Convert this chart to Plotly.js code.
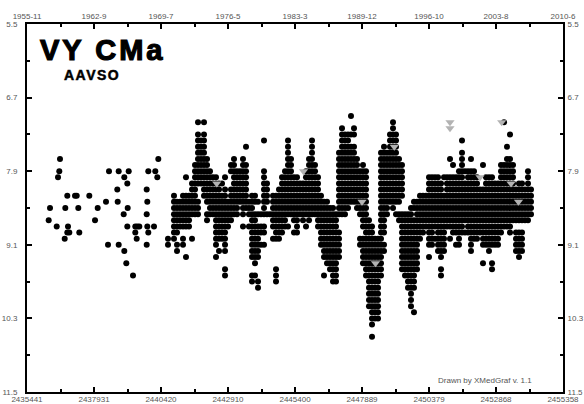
<!DOCTYPE html>
<html>
<head>
<meta charset="utf-8">
<script src="https://cdn.plot.ly/plotly-3.0.1.min.js"></script>
<style>html,body{margin:0;padding:0;background:#fff;}#chart{width:584px;height:404px;}</style>
</head>
<body>
<div id="chart"></div>
<script>
// Julian-date tick labels (bottom) and calendar tick labels (top)
const jdTicks = [2435441, 2437931, 2440420, 2442910, 2445400, 2447889, 2450379, 2452868, 2455358];
const dateTicks = ['1955-11', '1962-9', '1969-7', '1976-5', '1983-3', '1989-12', '1996-10', '2003-8', '2010-6'];
const magTicks = [5.5, 6.7, 7.9, 9.1, 10.3, 11.5];
const magTickText = ['5.5', '6.7', '7.9', '9.1', '10.3', '11.5'];

// Sparse early observations (JD, visual magnitude)
const earlyJD = [2436247, 2436296, 2436545, 2436593, 2436641, 2436667, 2436842, 2436864, 2436938, 2436938,
  2436964, 2437013, 2437225, 2437288, 2437347, 2437384, 2437756, 2437968, 2438068, 2438376,
  2438451, 2438488, 2438796, 2438811, 2438848, 2438848, 2439034, 2439056, 2439056, 2439131,
  2439168, 2439168, 2439183, 2439220, 2439380, 2439465, 2439465, 2439517, 2439540, 2439614,
  2439889, 2439889, 2439889, 2439911, 2439911, 2439948, 2439948, 2440160, 2440208, 2440283, 2440320];
const earlyMag = [8.7, 8.5, 8.8, 8.0, 7.9, 7.7, 9.0, 8.5, 8.3, 8.9,
  8.8, 8.9, 8.3, 8.3, 8.5, 8.9, 8.3, 8.7, 8.5, 8.4,
  9.1, 7.9, 8.2, 8.4, 7.9, 9.1, 8.6, 8.0, 9.2, 9.4,
  8.1, 8.8, 8.5, 7.9, 9.6, 8.8, 8.9, 9.0, 8.8, 8.8,
  8.2, 8.6, 9.1, 8.4, 8.8, 7.9, 8.9, 8.8, 7.9, 8.0, 7.7];

// Dense later observations: dates and the magnitudes observed around each date
const colJD = [2440680, 2440792, 2440903, 2441015, 2441126, 2441238, 2441349, 2441461, 2441572, 2441684,
  2441795, 2441907, 2442018, 2442130, 2442241, 2442353, 2442464, 2442576, 2442687, 2442799,
  2442910, 2443021, 2443133, 2443244, 2443356, 2443467, 2443579, 2443690, 2443802, 2443913,
  2444025, 2444136, 2444248, 2444359, 2444471, 2444582, 2444694, 2444805, 2444917, 2445028,
  2445139, 2445251, 2445362, 2445474, 2445585, 2445697, 2445808, 2445920, 2446031, 2446143,
  2446254, 2446366, 2446477, 2446589, 2446700, 2446812, 2446923, 2447035, 2447146, 2447257,
  2447369, 2447480, 2447592, 2447703, 2447815, 2447926, 2448038, 2448149, 2448261, 2448372,
  2448484, 2448595, 2448707, 2448818, 2448930, 2449041, 2449153, 2449264, 2449375, 2449487,
  2449598, 2449710, 2449821, 2449933, 2450044, 2450156, 2450267, 2450379, 2450490, 2450602,
  2450713, 2450825, 2450936, 2451048, 2451159, 2451271, 2451382, 2451493, 2451605, 2451716,
  2451828, 2451939, 2452051, 2452162, 2452274, 2452385, 2452497, 2452608, 2452720, 2452831,
  2452943, 2453054, 2453166, 2453277, 2453389, 2453500, 2453611, 2453723, 2453834, 2453946,
  2454057, 2454169];
const colMag = [
  "9.0 9.1", "", "8.3 8.4 8.5 8.6 8.7 8.8 8.9 9.0", "8.4 8.5 8.6 8.7 8.8 8.9 9.1 9.2", "8.4 8.5 8.6 8.7 8.8",
  "8.3 8.4 8.5 8.6 8.7 8.8 9.0 9.1", "8.0 8.3 8.4 8.5 8.6 8.7 8.8 9.3", "8.3 8.4 8.5 8.6 8.7 8.8", "8.1 8.2 8.3 8.4 8.5 8.6 9.0", "7.8 7.9 8.0 8.1 8.2 8.3 8.4 8.5 8.6",
  "7.1 7.3 7.4 7.5 7.6 7.7 7.8 7.9 8.0 8.1 8.4 8.5 8.6", "7.4 7.5 7.6 7.7 7.8 7.9 8.0 8.1", "7.1 7.3 7.4 7.5 7.6 7.7 7.8 7.9 8.0 8.1 8.2 8.3", "7.7 7.8 7.9 8.0 8.1 8.2 8.3 8.4 8.6 8.7", "7.9 8.0 8.1 8.2 8.3 8.4 8.5 8.6",
  "8.0 8.1 8.2 8.3 8.4 8.5 8.6", "8.0 8.1 8.2 8.3 8.4 8.5 8.6 8.7 8.8 8.9 9.0 9.1 9.3", "8.1 8.2 8.3 8.4 8.5 8.6 8.7 8.8 8.9 9.0 9.2", "8.1 8.3 8.4 8.5 8.6 8.7 8.8 8.9 9.0", "8.0 8.2 8.3 8.4 8.5 8.6 8.7 8.8 8.9 9.0 9.1 9.2 9.5 9.6",
  "8.4 8.5 8.6 8.7 8.8", "7.8 7.9 8.2 8.3 8.4 8.5 8.6 8.7", "7.7 7.8 7.9 8.0 8.1 8.2 8.3 8.4 8.5 8.6", "7.9 8.0 8.1 8.2 8.3 8.4 8.5 8.6", "7.9 8.0 8.1 8.2 8.3 8.4",
  "7.7 7.8 7.9 8.0 8.1 8.2 8.3 8.4 8.5 8.6 8.8", "7.5 7.8 7.9 8.0 8.1 8.2 8.3 8.4 8.5", "8.4 8.5 8.6 8.8", "8.3 8.4 8.5 8.6 8.7 8.8 8.9 9.0 9.1 9.2 9.3 9.6 9.7", "8.3 8.4 8.6 8.7 8.8 8.9 9.0 9.1 9.2 9.3 9.4 9.6",
  "8.4 8.6 8.8 8.9 9.0 9.1 9.2 9.3 9.7 9.8", "8.6 8.8 8.9 9.1", "7.4 7.9 8.0 8.1 8.2 8.3 8.4 8.5 8.6 8.8 8.9 9.1", "8.1 8.2 8.3 8.4 8.6", "8.6",
  "8.3 8.4 8.5 8.6 8.7 8.8 9.0", "8.3 8.4 8.5 8.6 8.7 8.8 8.9 9.0 9.5 9.6 9.7", "8.2 8.3 8.4 8.5 8.6 8.7 8.8 8.9 9.0", "8.0 8.1 8.2 8.3 8.4 8.5 8.6 8.7 8.8 8.9", "7.9 8.0 8.1 8.2 8.3 8.4 8.5 8.6 8.7 8.8",
  "7.4 7.5 7.6 7.7 7.8 7.9 8.0 8.1 8.2 8.3 8.4 8.5 8.6 8.8", "7.7 7.8 7.9 8.0 8.1 8.2 8.3 8.4 8.5 8.6", "8.0 8.1 8.2 8.3 8.4 8.5 8.6 8.7 8.9", "8.0 8.1 8.2 8.3 8.4 8.5 8.6 8.7 8.8 8.9", "8.1 8.2 8.3 8.4 8.5 8.6",
  "8.1 8.2 8.3 8.4 8.5 8.6 8.7", "7.9 8.0 8.1 8.2 8.3 8.4 8.5 8.6 8.8", "7.7 7.8 7.9 8.0 8.1 8.2 8.3 8.4 8.5 8.6 8.7", "7.4 7.5 7.6 7.7 7.8 7.9 8.0 8.1 8.2 8.3 8.4 8.5 8.6", "7.8 7.9 8.0 8.1 8.2 8.3 8.4 8.5 8.6",
  "8.0 8.1 8.2 8.3 8.4 8.5 8.6 8.7 8.8", "8.3 8.4 8.5 8.6 8.7 8.8 8.9 9.0 9.1", "8.4 8.5 8.6 8.7 8.8 8.9 9.0 9.1 9.2 9.3 9.6", "8.4 8.5 8.6 8.7 8.8 8.9 9.0 9.1 9.2 9.3 9.4", "8.5 8.6 8.7 8.8 8.9 9.0 9.1 9.2 9.3 9.4 9.5",
  "8.5 8.6 8.7 8.8 8.9 9.0 9.1 9.2 9.3 9.4 9.5 9.6 9.7", "8.6 8.7 8.8 8.9 9.0 9.1 9.2 9.3 9.4 9.5 9.6 9.7", "7.6 7.7 7.8 7.9 8.0 8.1 8.2 8.3 8.4 8.5 8.6 8.9 9.0 9.1 9.2 9.3", "7.2 7.3 7.4 7.5 7.6 7.7 7.8 7.9 8.0 8.1 8.2 8.3 8.4 8.5 8.6", "7.3 7.4 7.5 7.6 7.7 7.8 7.9 8.0 8.1 8.2 8.3 8.4 8.5 8.6",
  "7.3 7.4 7.5 7.6 7.7 7.8 7.9 8.0 8.1 8.2 8.3 8.4 8.5", "7.0 7.3 7.5 7.6 7.7 7.8 7.9 8.0 8.1 8.2 8.3 8.4", "7.2 7.3 7.5 7.6 7.7 7.8 7.9 8.0 8.1 8.2 8.3 8.4", "7.7 7.8 7.9 8.0 8.1 8.2 8.3 8.4 8.5", "7.9 8.0 8.1 8.2 8.3 8.4 8.5 8.6 9.0 9.1",
  "7.8 7.9 8.0 8.1 8.2 8.3 8.4 8.5 8.6 8.7 8.8 9.0 9.1 9.2 9.3 9.4", "7.9 8.0 8.1 8.2 8.3 8.4 8.5 8.6 8.7 8.8 8.9 9.0 9.1 9.2 9.3 9.4 9.5 9.6", "8.7 8.8 8.9 9.0 9.1 9.2 9.3 9.4 9.5 9.6 9.7 9.8 9.9 10.0 10.1", "8.8 8.9 9.0 9.1 9.2 9.3 9.4 9.5 9.6 9.7 9.8 9.9 10.0 10.1 10.2 10.3 10.4 10.6", "9.0 9.1 9.2 9.3 9.4 9.5 9.6 9.7 9.8 9.9 10.0 10.1 10.2 10.3",
  "9.0 9.1 9.2 9.3 9.4 9.5 9.6 9.7 9.8 9.9 10.0 10.1 10.2 10.3", "7.6 7.7 7.8 7.9 8.0 8.1 8.2 8.3 8.4 8.5 8.6 8.7 8.8 8.9 9.0 9.1 9.2 9.3 9.4 9.5 9.6", "7.5 7.6 7.7 7.8 7.9 8.0 8.1 8.2 8.3 8.4 8.5 8.6 8.7 8.8 8.9 9.1 9.2", "7.6 7.7 7.8 7.9 8.0 8.1 8.2 8.3 8.4 8.5 8.6", "7.3 7.4 7.5 7.6 7.7 7.8 7.9 8.0 8.1 8.2 8.3 8.4",
  "7.1 7.2 7.3 7.4 7.5 7.6 7.7 7.8 7.9 8.0 8.1 8.2 8.3 8.4 8.5", "7.3 7.4 7.5 7.6 7.7 7.8 7.9 8.0 8.1 8.2 8.3 8.4 8.6", "7.7 7.8 7.9 8.0 8.1 8.2 8.3 8.4 8.6 8.7", "7.8 7.9 8.0 8.1 8.2 8.3 8.6 8.7 8.8 8.9 9.0 9.1 9.2 9.3 9.4 9.5", "8.6 8.7 8.8 8.9 9.0 9.1 9.2 9.3 9.4 9.5 9.6",
  "8.6 8.7 8.8 8.9 9.0 9.1 9.2 9.3 9.4 9.5 9.6 9.7 9.8", "8.5 8.6 8.7 8.8 8.9 9.0 9.1 9.2 9.3 9.4 9.5 9.6 9.7 9.8 9.9 10.0 10.1", "8.4 8.5 8.7 8.8 8.9 9.0 9.1 9.2 9.3 9.4 9.5 9.6 9.7 9.8 10.2", "8.4 8.5 8.6 8.7 8.8 8.9 9.0 9.1 9.2 9.3 9.4 9.5", "8.3 8.4 8.5 8.6 8.7 8.8 8.9 9.0",
  "8.3 8.4 8.5 8.6 8.7 8.8 8.9", "8.3 8.4 8.5 8.6 8.7 8.8", "8.0 8.1 8.2 8.3 8.4 8.5 8.6 8.7 8.8 8.9 9.0 9.1 9.3", "8.0 8.1 8.2 8.3 8.4 8.5 8.6 8.7 8.8 8.9 9.0 9.1", "8.0 8.1 8.2 8.3 8.4 8.5 8.6 8.7 8.8 9.0",
  "8.0 8.1 8.2 8.3 8.4 8.5 8.6 8.7 8.8 8.9 9.0 9.1 9.2", "8.1 8.2 8.3 8.4 8.5 8.6 8.7 8.8 8.9 9.0 9.1 9.2 9.3 9.5 9.6", "8.0 8.3 8.4 8.5 8.6 8.7 8.8 8.9 9.0 9.1 9.2", "8.0 8.1 8.2 8.3 8.4 8.5 8.6 8.7 8.8", "7.7 8.0 8.1 8.2 8.3 8.4 8.5 8.6 8.7 8.8 9.0",
  "7.8 8.0 8.1 8.2 8.3 8.4 8.5 8.6 8.7 8.8 8.9", "8.0 8.1 8.2 8.3 8.4 8.5 8.6 8.7 8.8 8.9 9.1", "7.9 8.0 8.1 8.2 8.3 8.4 8.5 8.6 8.7 8.8 8.9 9.0 9.1", "7.4 7.6 7.7 7.8 7.9 8.0 8.1 8.2 8.3 8.4 8.5 8.6 8.7 8.8 8.9", "7.9 8.1 8.2 8.3 8.4 8.5 8.6 8.7 8.9",
  "7.9 8.0 8.1 8.2 8.3 8.4 8.5 8.6 8.7 8.8 8.9", "7.7 7.9 8.0 8.1 8.2 8.3 8.4 8.5 8.6 8.7 8.8 8.9 9.0 9.1 9.2", "7.9 8.0 8.1 8.2 8.3 8.4 8.5 8.6 8.7 8.8 8.9 9.0", "8.0 8.1 8.2 8.3 8.4 8.5 8.6 8.7 8.8 8.9 9.0", "8.2 8.3 8.4 8.5 8.6 8.7 8.8 8.9",
  "7.8 8.2 8.3 8.4 8.5 8.6 8.7 8.8 8.9 9.0 9.1 9.4", "8.0 8.1 8.2 8.3 8.4 8.5 8.6 8.7 8.8 8.9 9.0 9.1", "8.0 8.1 8.2 8.3 8.4 8.5 8.6 8.7 8.8 8.9 9.0 9.1 9.2", "8.0 8.1 8.2 8.3 8.4 8.5 8.6 8.7 8.8 8.9 9.0 9.1 9.4 9.5", "8.1 8.2 8.3 8.4 8.5 8.6 8.7 8.8 8.9 9.0 9.1",
  "8.1 8.2 8.3 8.4 8.5 8.6 8.7 8.8 8.9 9.0 9.1", "7.8 7.9 8.0 8.1 8.2 8.3 8.4 8.5 8.6 8.7 8.8 8.9", "7.1 7.8 7.9 8.0 8.1 8.2 8.3 8.4 8.5 8.6 8.7 8.8", "7.5 7.7 7.8 7.9 8.0 8.1 8.2 8.3 8.4 8.5 8.6 8.7 8.8", "7.3 7.7 7.8 7.9 8.0 8.1 8.2 8.3 8.4 8.5 8.6 8.7 8.8 8.9",
  "7.8 7.9 8.0 8.1 8.2 8.3 8.4 8.5 8.6 8.7", "8.2 8.3 8.4 8.5 8.6 8.7 8.9 9.0 9.1 9.2", "8.1 8.2 8.3 8.4 8.5 8.6 8.7 8.9 9.0 9.1 9.2 9.3", "8.1 8.2 8.3 8.4 8.5 8.6 8.7 8.9 9.0 9.1 9.2", "8.2 8.3 8.4 8.5 8.6 8.7",
  "7.9 8.0 8.1 8.2 8.3 8.4 8.5 8.6 8.7", "8.2 8.3 8.4 8.5 8.6"
];

// "Fainter than" limits (grey triangles)
const limitJD = [2442490, 2445715, 2447889, 2448391, 2449089, 2451159, 2451159, 2452274, 2453080, 2453426, 2453704];
const limitMag = [8.1, 7.9, 8.4, 9.4, 7.5, 7.1, 7.2, 8.0, 7.1, 8.1, 8.4];

// flatten observations
const obsX = earlyJD.slice();
const obsY = earlyMag.slice();
colJD.forEach((jd, i) => {
  colMag[i].split(' ').filter(s => s.length).forEach(m => { obsX.push(jd); obsY.push(parseFloat(m)); });
});

const FONT = 'Liberation Sans, Arial, Helvetica, sans-serif';
const tickFont = {family: FONT, size: 8, color: '#555'};
const xRange = [jdTicks[0], jdTicks[jdTicks.length - 1]];
const yRange = [magTicks[magTicks.length - 1], magTicks[0]];

const axBase = {
  ticks: 'inside', ticklen: 5, tickwidth: 2, tickcolor: '#000',
  showline: true, linecolor: '#000', linewidth: 2,
  showgrid: false, zeroline: false, tickfont: tickFont, fixedrange: true
};

const traces = [
  {x: obsX, y: obsY, type: 'scatter', mode: 'markers',
   marker: {color: '#000', size: 6, line: {width: 0}}, hoverinfo: 'x+y', showlegend: false, cliponaxis: true},
  {x: limitJD, y: limitMag, type: 'scatter', mode: 'markers',
   marker: {color: '#b3b3b3', size: 8, symbol: 'triangle-down', line: {width: 0}}, showlegend: false},
  {x: [], y: [], xaxis: 'x2', yaxis: 'y2', type: 'scatter', mode: 'markers', showlegend: false, hoverinfo: 'skip'}
];

const layout = {
  width: 584, height: 404,
  margin: {l: 27, r: 21, t: 24, b: 12, pad: 0},
  paper_bgcolor: '#fff', plot_bgcolor: '#fff',
  showlegend: false,
  xaxis: Object.assign({}, axBase, {
    range: xRange, tickmode: 'array', tickvals: jdTicks, ticktext: jdTicks.map(String),
    side: 'bottom', anchor: 'y', ticklabelstandoff: -2,
    minor: {tick0: jdTicks[0], dtick: (xRange[1] - xRange[0]) / 16, ticks: 'inside', ticklen: 3, tickwidth: 2, tickcolor: '#000'}
  }),
  xaxis2: Object.assign({}, axBase, {
    range: xRange, tickmode: 'array', tickvals: jdTicks, ticktext: dateTicks,
    side: 'top', overlaying: 'x', anchor: 'y', ticklabelstandoff: 0,
    minor: {tick0: jdTicks[0], dtick: (xRange[1] - xRange[0]) / 16, ticks: 'inside', ticklen: 3, tickwidth: 2, tickcolor: '#000'}
  }),
  yaxis: Object.assign({}, axBase, {
    range: yRange, tickmode: 'array', tickvals: magTicks, ticktext: magTickText,
    side: 'left', anchor: 'x', ticklabelstandoff: 6,
    minor: {tick0: magTicks[0], dtick: 0.6, ticks: 'inside', ticklen: 3, tickwidth: 2, tickcolor: '#000'}
  }),
  yaxis2: Object.assign({}, axBase, {
    range: yRange, tickmode: 'array', tickvals: magTicks, ticktext: magTickText,
    side: 'right', overlaying: 'y', anchor: 'x', ticklabelstandoff: 1,
    minor: {tick0: magTicks[0], dtick: 0.6, ticks: 'inside', ticklen: 3, tickwidth: 2, tickcolor: '#000'}
  }),
  annotations: [
    {text: '<span style="letter-spacing:3px">VY CMa</span>', xref: 'paper', yref: 'paper', x: 0.141, y: 0.929,
     xanchor: 'center', yanchor: 'middle', showarrow: false, borderpad: 0,
     font: {family: FONT, size: 29, color: '#000', weight: 'bold'}},
    {text: '<span style="letter-spacing:1.5px">AAVSO</span>', xref: 'paper', yref: 'paper', x: 0.122, y: 0.862,
     xanchor: 'center', yanchor: 'middle', showarrow: false, borderpad: 0,
     font: {family: FONT, size: 14, color: '#000', weight: 'bold'}},
    {text: 'Drawn by XMedGraf v. 1.1', xref: 'paper', yref: 'paper', x: 0.855, y: 0.03,
     xanchor: 'center', yanchor: 'middle', showarrow: false, borderpad: 0,
     font: {family: FONT, size: 8, color: '#555'}}
  ]
};

Plotly.newPlot('chart', traces, layout, {staticPlot: true, displayModeBar: false}).then(() => {
  // heavier title stroke to mimic the reference's black face
  document.querySelectorAll('.annotation-text').forEach((t, i) => {
    if (i < 2) { t.style.stroke = '#000'; t.style.strokeWidth = i === 0 ? '1.2px' : '0.5px'; }
  });
});
</script>
</body>
</html>
